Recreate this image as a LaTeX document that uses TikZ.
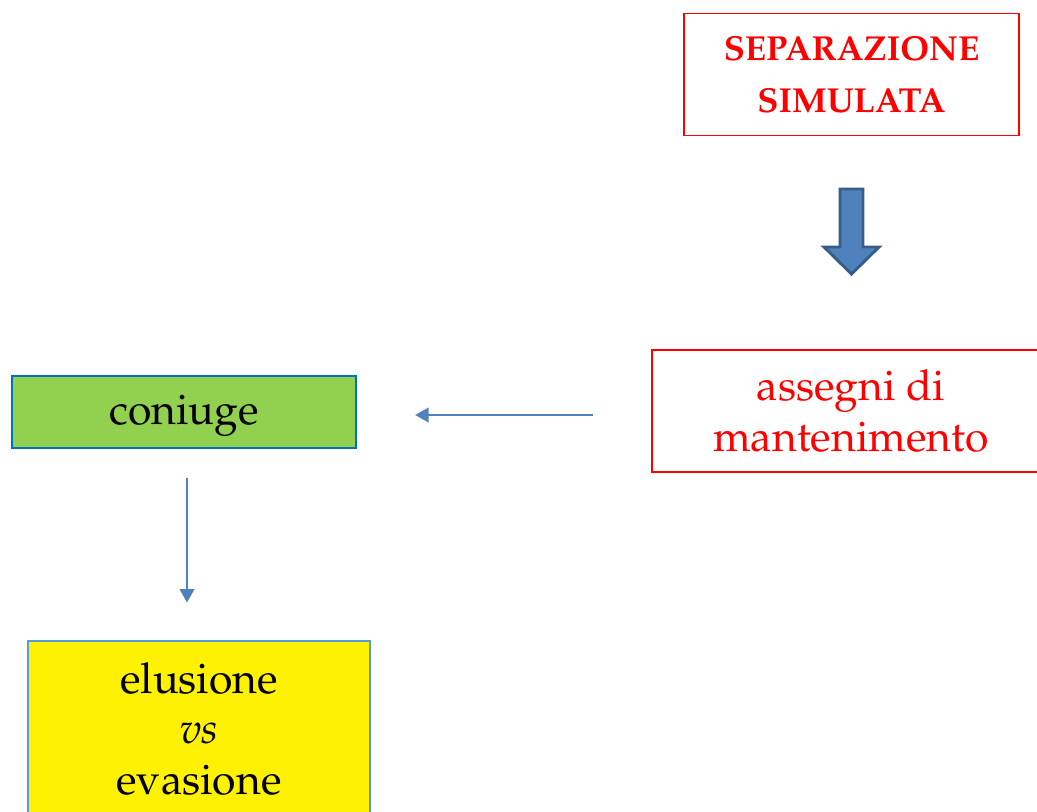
\documentclass[tikz,border=0pt]{standalone}
\usepackage[T1]{fontenc}
\usepackage{mathpazo}
\usepackage{tikz}
\usetikzlibrary{arrows.meta}
\usetikzlibrary{calc}

\definecolor{boxgreen}{HTML}{92D050}
\definecolor{boxblue}{HTML}{0070C0}
\definecolor{lineblue}{HTML}{4F81BD}
\definecolor{lightblue}{HTML}{5B9BD5}
\definecolor{darkblue}{HTML}{385D8A}

\tikzset{
	redbox/.style={draw=red, line width=1.1pt, text=red, align=center, inner sep=0pt},
	bluebox/.style={draw=boxblue, line width=0.8pt, align=center, inner sep=0pt},
	link/.style={draw=lineblue, line width=1.1pt, -{Triangle[length=10pt, width=11pt]}},
	blockarrow/.style={draw=darkblue, fill=lineblue, line width=2.2pt, line join=miter},
	bigfont/.style={font=\fontsize{32}{38}\selectfont}
}

\begin{document}
\begin{tikzpicture}[x=0.75pt, y=-0.75pt]
		\useasboundingbox (0,0) rectangle (1037,811);
		\clip (0,0) rectangle (1037,811);

		\node[redbox, minimum width=251.25pt, minimum height=91.5pt, font=\bfseries\fontsize{26}{39}\selectfont] (sep) at (851.5,74.5) {SEPARAZIONE\\SIMULATA};
		\node[redbox, bigfont, minimum width=298.5pt, minimum height=91.5pt] (assegni) at (851,411) {assegni di\\mantenimento};
		\node[bluebox, fill=boxgreen, bigfont, minimum width=258pt, minimum height=54pt, text height=28pt, text depth=9pt] (coniuge) at (184,412) {coniuge};
		\node[bluebox, draw=lightblue, fill=yellow, bigfont, minimum width=256.5pt, minimum height=132pt] (elus) at (199,729) {elusione\\\textit{vs}\\evasione};

		\draw[blockarrow] (840,189) -- (863,189) -- (863,247) -- (879,247) -- (851.5,274) -- (824,247) -- (840,247) -- cycle;

		\draw[link, shorten <=43.5pt, shorten >=44pt] ($(assegni.west)+(0,4)$) -- ($(coniuge.east)+(0,3)$);
		\draw[link, shorten <=21.75pt, shorten >=28.5pt] ($(coniuge.south)+(3,0)$) -- ($(coniuge.south |- elus.north)+(3,0)$);
	\end{tikzpicture}
\end{document}
